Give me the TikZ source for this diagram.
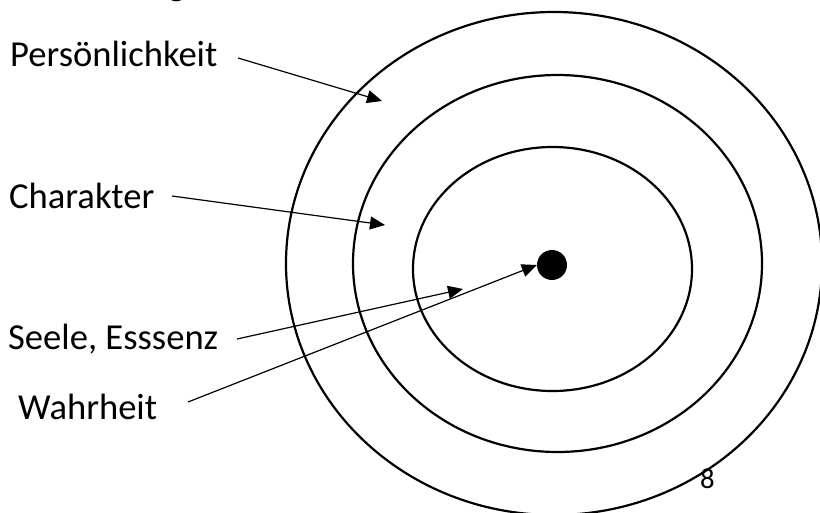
\documentclass[tikz,border=0pt]{standalone}
\usepackage{fontspec}
\setmainfont{Carlito}
\usetikzlibrary{arrows.meta}
\begin{document}
\begin{tikzpicture}[x=1pt,y=-1pt,
  ring/.style={line width=2.2pt,draw=black},
  lbl/.style={anchor=base west,inner sep=0pt,font=\fontsize{36.6}{44}\selectfont},
  pointer/.style={line width=1.2pt,-{Triangle[length=15pt,width=13pt]}}]
\useasboundingbox (0,0) rectangle (820,512);
% rings
\draw[ring] (554,263.5) ellipse [x radius=268, y radius=251.5];
\draw[ring] (557.5,263.5) ellipse [x radius=204.5, y radius=188.5];
\draw[ring] (552.5,269) ellipse [x radius=139.5, y radius=122];
\node[circle,fill=black,minimum size=30pt,inner sep=0pt] (dot) at (552,265) {};
% labels
\node[lbl] (top) at (168,-5) {g};
\node[lbl] (pers) at (10,66.7) {Persönlichkeit};
\node[lbl] (char) at (9,208) {Charakter};
\node[lbl] (seele) at (8,349) {Seele, Esssenz};
\node[lbl] (wahr) at (18,419) {Wahrheit};
\node[anchor=base west,inner sep=0pt,font=\fontsize{28.7}{34}\selectfont] (page) at (700,488) {8};
% connector ends
\coordinate (p1) at (238,58);  \coordinate (p2) at (382,101);
\coordinate (c1) at (172,196); \coordinate (c2) at (385,225);
\coordinate (s1) at (237,339); \coordinate (s2) at (463,289);
\coordinate (w1) at (188,402);
\draw[pointer] (p1) -- (p2);
\draw[pointer] (c1) -- (c2);
\draw[pointer] (s1) -- (s2);
\draw[pointer] (w1) -- (dot.west);
\end{tikzpicture}
\end{document}
